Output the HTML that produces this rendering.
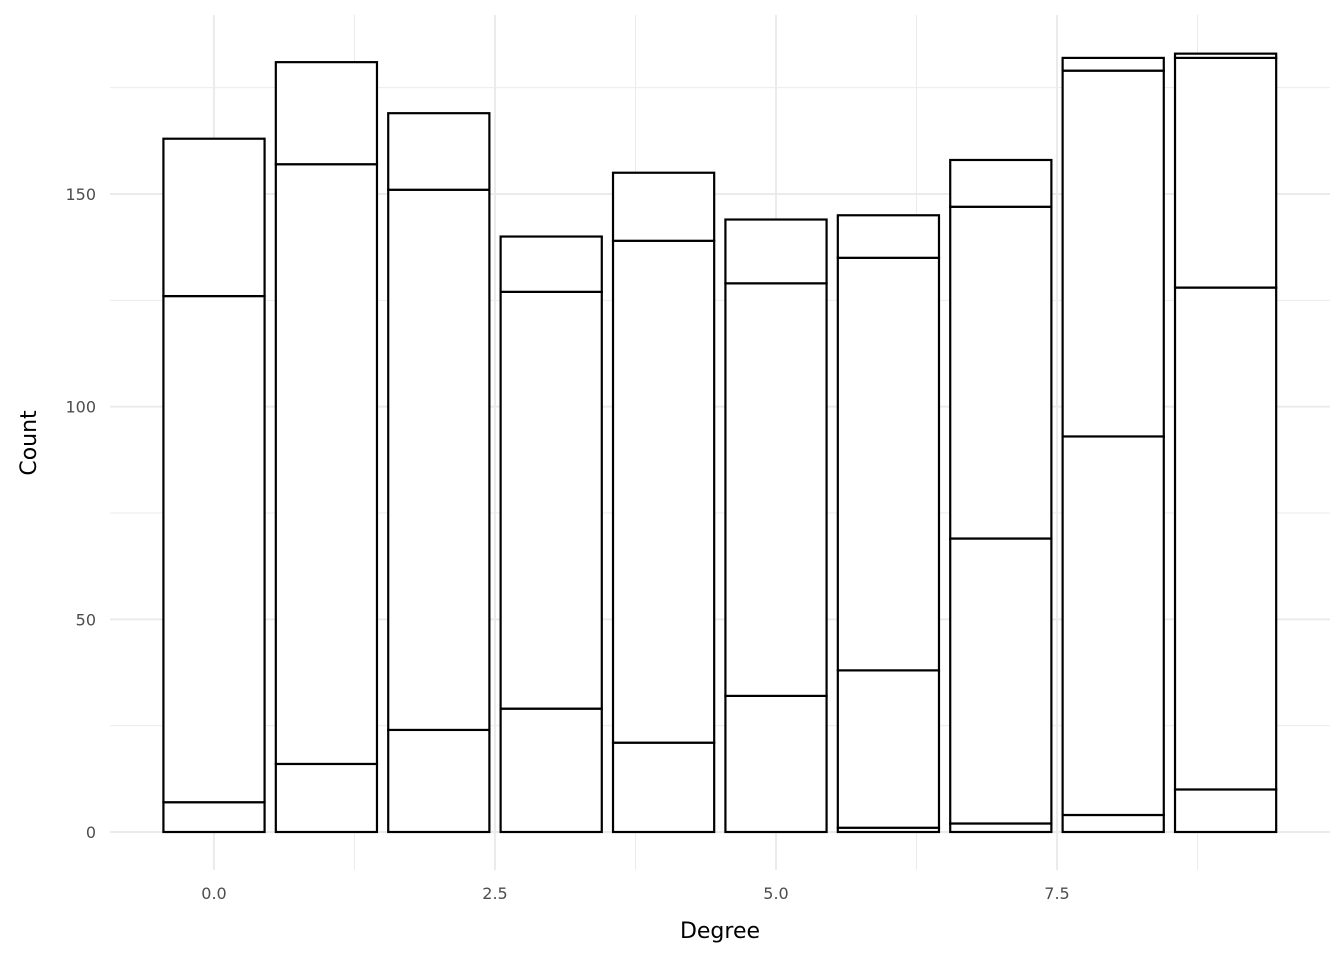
<!DOCTYPE html>
<html><head><meta charset="utf-8"><style>
html,body{margin:0;padding:0;background:#fff;}
svg{display:block;font-family:"DejaVu Sans","Liberation Sans",sans-serif;}
</style></head><body>
<svg id="chart" width="1344" height="960">
<g id="grid"></g>
<g id="bars"></g>
<g id="axes"></g>
<text x="720" y="938" font-size="22" text-anchor="middle" fill="#000">Degree</text>
<text transform="translate(36,443) rotate(-90)" font-size="22" text-anchor="middle" fill="#000">Count</text>
</svg>
<script>
const categories = [0,1,2,3,4,5,6,7,8,9];
const layer1 = [0,0,0,0,0,0,1,2,4,10];
const layer2 = [7,16,24,29,21,32,37,67,89,118];
const layer3 = [119,141,127,98,118,97,97,78,86,54];
const layer4 = [37,24,18,13,16,15,10,11,3,1];
const xTicks = [0,2.5,5,7.5];
const xTickLabels = ["0.0","2.5","5.0","7.5"];
const yTicks = [0,50,100,150];
const yTickLabels = ["0","50","100","150"];

const NS="http://www.w3.org/2000/svg";
const x = v => 214 + v*112.4;
const y = v => 832 - v*4.2533;
const grid=document.getElementById('grid'), bars=document.getElementById('bars'), axes=document.getElementById('axes');
function mk(tag,attrs,parent){const e=document.createElementNS(NS,tag);for(const k in attrs)e.setAttribute(k,attrs[k]);parent.appendChild(e);return e;}
// minor grid
[-1.25,1.25,3.75,6.25,8.75].forEach(v=>{if(x(v)>110){const l=mk('line',{x1:x(v),x2:x(v),y1:15,y2:870,stroke:'#ebebeb','stroke-width':1},grid);

}});
[25,75,125,175].forEach(v=>{const l=mk('line',{x1:110,x2:1330,y1:y(v),y2:y(v),stroke:'#ebebeb','stroke-width':1},grid);

});
xTicks.forEach((v,i)=>{const l=mk('line',{x1:x(v),x2:x(v),y1:15,y2:870,stroke:'#ebebeb','stroke-width':2},grid);


const t=mk('text',{x:x(v),y:899,'font-size':16,'text-anchor':'middle',fill:'#4d4d4d'},axes);t.textContent=xTickLabels[i];

});
yTicks.forEach((v,i)=>{const l=mk('line',{x1:110,x2:1330,y1:y(v),y2:y(v),stroke:'#ebebeb','stroke-width':2},grid);


const t=mk('text',{x:96,y:y(v)+6,'font-size':16,'text-anchor':'end',fill:'#4d4d4d'},axes);t.textContent=yTickLabels[i];

});
const layers=[layer1,layer2,layer3,layer4];
categories.forEach((c,i)=>{let base=0;layers.forEach((L,j)=>{const v=L[i];if(v<=0)return;
const r=mk('rect',{x:x(c-0.45),width:x(c+0.45)-x(c-0.45),y:y(base+v),height:y(base)-y(base+v),fill:'#fff',stroke:'#000','stroke-width':2.2},bars);


base+=v;});});
</script>
</body></html>
